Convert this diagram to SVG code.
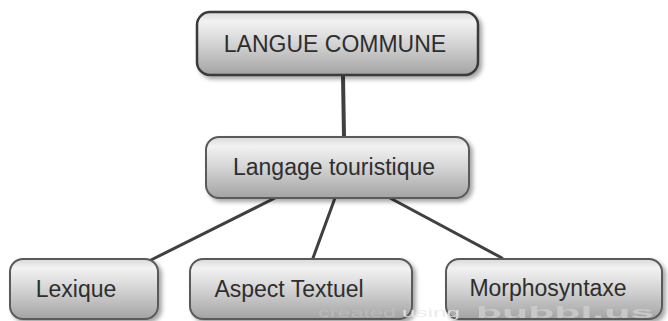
<svg xmlns="http://www.w3.org/2000/svg" width="668" height="321" viewBox="0 0 668 321">
<defs>
<linearGradient id="g" x1="0" y1="0" x2="0" y2="1">
<stop offset="0" stop-color="#d9d9d9"/>
<stop offset="0.15" stop-color="#f2f2f2"/>
<stop offset="0.5" stop-color="#d4d4d4"/>
<stop offset="1" stop-color="#a3a3a3"/>
</linearGradient>
<filter id="sh" x="-10%" y="-20%" width="125%" height="150%">
<feDropShadow dx="3" dy="3" stdDeviation="2" flood-color="#000" flood-opacity="0.35"/>
</filter>
<style>
.box{fill:url(#g);stroke:#5a5a5a;stroke-width:2;filter:url(#sh)}
.top{stroke:#3a3a3a;stroke-width:2.5}
.lbl{font-family:"Liberation Sans",Arial,sans-serif;font-size:23px;fill:#2e2e2e;text-anchor:middle}
.con{stroke:#404040;stroke-width:3;fill:none;stroke-linecap:round}
.wm{font-family:"Liberation Sans",Arial,sans-serif;fill:#bdbdbd}
</style>
</defs>
<rect width="668" height="321" fill="#ffffff"/>
<g id="connectors">
<line class="con" x1="343" y1="76" x2="344" y2="137" style="stroke-width:4"/>
<line class="con" x1="275" y1="198" x2="151" y2="260"/>
<line class="con" x1="335" y1="198" x2="313" y2="258"/>
<line class="con" x1="390" y1="198" x2="502" y2="258"/>
</g>
<g id="langue-commune">
<rect class="box top" x="197" y="12" width="281" height="63" rx="13"/>
<text class="lbl" x="335" y="52">LANGUE COMMUNE</text>
</g>
<g id="langage-touristique">
<rect class="box" x="206" y="137" width="263" height="61" rx="13"/>
<text class="lbl" x="334" y="175">Langage touristique</text>
</g>
<g id="lexique">
<rect class="box" x="10" y="259" width="148" height="60" rx="13"/>
<text class="lbl" x="76" y="297">Lexique</text>
</g>
<g id="aspect-textuel">
<rect class="box" x="190" y="259" width="222" height="60" rx="13"/>
<text class="lbl" x="289" y="297">Aspect Textuel</text>
</g>
<g id="morphosyntaxe">
<rect class="box" x="446" y="259" width="216" height="60" rx="13"/>
<text class="lbl" x="548" y="296">Morphosyntaxe</text>
</g>
<g id="watermark" opacity="0.85">
<text class="wm" x="318" y="317" font-size="13" textLength="78" lengthAdjust="spacingAndGlyphs">created</text>
<text class="wm" x="402" y="317" font-size="13" fill="#e8e8e8" style="fill:#e8e8e8" textLength="58" lengthAdjust="spacingAndGlyphs">using</text>
<text class="wm" x="476" y="318" font-size="17" font-weight="bold" style="fill:#cdcdcd" textLength="178" lengthAdjust="spacingAndGlyphs">bubbl.us</text>
</g>
</svg>
